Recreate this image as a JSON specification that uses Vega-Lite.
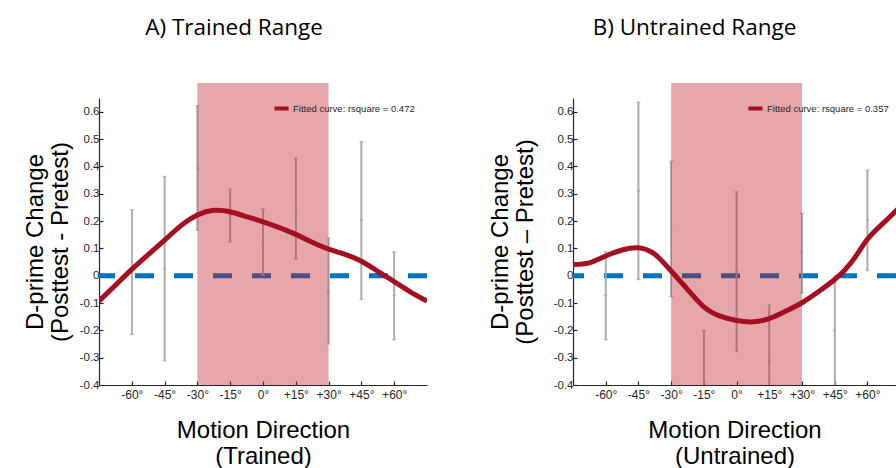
{
  "$schema": "https://vega.github.io/schema/vega-lite/v6.json",
  "background": "white",
  "padding": {"left": 23, "top": 17, "right": 0, "bottom": 0},
  "spacing": 58,
  "config": {
    "locale": {"number": {"decimal": ".", "thousands": ",", "grouping": [3], "currency": ["$", ""], "minus": "-"}},
    "view": {"stroke": null},
    "font": "Liberation Sans",
    "axis": {
      "grid": false,
      "domainColor": "#262626",
      "domainWidth": 1.2,
      "tickColor": "#262626",
      "tickWidth": 1.2,
      "tickSize": -4,
      "labelOverlap": false,
      "labelBound": false,
      "labelColor": "#262626",
      "labelFont": "Liberation Sans",
      "titleFont": "Liberation Sans",
      "titleFontWeight": "normal",
      "titleColor": "#000000",
      "titleFontSize": 24
    },
    "legend": {
      "orient": "none",
      "legendX": 173,
      "legendY": 1,
      "symbolType": "stroke",
      "symbolStrokeWidth": 4,
      "symbolSize": 200,
      "labelFont": "Liberation Sans",
      "labelFontSize": 9.5,
      "labelColor": "#262626",
      "labelOffset": 2,
      "padding": 0
    },
    "title": {"font": "Open Sans", "fontSize": 22.5, "fontWeight": "normal", "color": "#000000", "anchor": "middle", "frame": "group"}
  },
  "datasets": {
    "zero": [{"ref": 0}],
    "range": [{"from": -30, "to": 30}],
    "errA": [
      {"dir": -60, "lo": -0.215, "hi": 0.241, "mean": 0.013},
      {"dir": -45, "lo": -0.311, "hi": 0.363, "mean": 0.025},
      {"dir": -30, "lo": 0.166, "hi": 0.622, "mean": 0.392},
      {"dir": -15, "lo": 0.124, "hi": 0.316, "mean": 0.221},
      {"dir": 0, "lo": 0.002, "hi": 0.243, "mean": 0.117},
      {"dir": 15, "lo": 0.060, "hi": 0.430, "mean": 0.245},
      {"dir": 30, "lo": -0.250, "hi": 0.137, "mean": -0.058},
      {"dir": 45, "lo": -0.087, "hi": 0.490, "mean": 0.204},
      {"dir": 60, "lo": -0.234, "hi": 0.087, "mean": -0.072}
    ],
    "errB": [
      {"dir": -60, "lo": -0.234, "hi": 0.087, "mean": -0.072},
      {"dir": -45, "lo": -0.014, "hi": 0.634, "mean": 0.310},
      {"dir": -30, "lo": -0.077, "hi": 0.419, "mean": 0.172},
      {"dir": -15, "lo": -0.64, "hi": -0.201, "mean": -0.42},
      {"dir": 0, "lo": -0.278, "hi": 0.307, "mean": 0.014},
      {"dir": 15, "lo": -0.514, "hi": -0.108, "mean": -0.311},
      {"dir": 30, "lo": -0.063, "hi": 0.228, "mean": 0.084},
      {"dir": 45, "lo": -0.401, "hi": -0.001, "mean": -0.201},
      {"dir": 60, "lo": 0.019, "hi": 0.386, "mean": 0.204}
    ],
    "curveA": [
      {"dir": -75, "d": -0.093, "series": "Fitted curve: rsquare = 0.472"},
      {"dir": -67.5, "d": -0.035, "series": "Fitted curve: rsquare = 0.472"},
      {"dir": -60, "d": 0.023, "series": "Fitted curve: rsquare = 0.472"},
      {"dir": -52.5, "d": 0.077, "series": "Fitted curve: rsquare = 0.472"},
      {"dir": -45, "d": 0.130, "series": "Fitted curve: rsquare = 0.472"},
      {"dir": -37.5, "d": 0.183, "series": "Fitted curve: rsquare = 0.472"},
      {"dir": -30, "d": 0.222, "series": "Fitted curve: rsquare = 0.472"},
      {"dir": -22.5, "d": 0.239, "series": "Fitted curve: rsquare = 0.472"},
      {"dir": -15, "d": 0.234, "series": "Fitted curve: rsquare = 0.472"},
      {"dir": -7.5, "d": 0.216, "series": "Fitted curve: rsquare = 0.472"},
      {"dir": 0, "d": 0.197, "series": "Fitted curve: rsquare = 0.472"},
      {"dir": 7.5, "d": 0.176, "series": "Fitted curve: rsquare = 0.472"},
      {"dir": 15, "d": 0.151, "series": "Fitted curve: rsquare = 0.472"},
      {"dir": 22.5, "d": 0.122, "series": "Fitted curve: rsquare = 0.472"},
      {"dir": 30, "d": 0.097, "series": "Fitted curve: rsquare = 0.472"},
      {"dir": 37.5, "d": 0.078, "series": "Fitted curve: rsquare = 0.472"},
      {"dir": 45, "d": 0.053, "series": "Fitted curve: rsquare = 0.472"},
      {"dir": 52.5, "d": 0.016, "series": "Fitted curve: rsquare = 0.472"},
      {"dir": 60, "d": -0.022, "series": "Fitted curve: rsquare = 0.472"},
      {"dir": 67.5, "d": -0.06, "series": "Fitted curve: rsquare = 0.472"},
      {"dir": 75, "d": -0.093, "series": "Fitted curve: rsquare = 0.472"}
    ],
    "curveB": [
      {"dir": -75, "d": 0.041, "series": "Fitted curve: rsquare = 0.357"},
      {"dir": -67.5, "d": 0.047, "series": "Fitted curve: rsquare = 0.357"},
      {"dir": -60, "d": 0.072, "series": "Fitted curve: rsquare = 0.357"},
      {"dir": -52.5, "d": 0.094, "series": "Fitted curve: rsquare = 0.357"},
      {"dir": -45, "d": 0.102, "series": "Fitted curve: rsquare = 0.357"},
      {"dir": -37.5, "d": 0.078, "series": "Fitted curve: rsquare = 0.357"},
      {"dir": -30, "d": 0.017, "series": "Fitted curve: rsquare = 0.357"},
      {"dir": -22.5, "d": -0.05, "series": "Fitted curve: rsquare = 0.357"},
      {"dir": -15, "d": -0.114, "series": "Fitted curve: rsquare = 0.357"},
      {"dir": -7.5, "d": -0.148, "series": "Fitted curve: rsquare = 0.357"},
      {"dir": 0, "d": -0.164, "series": "Fitted curve: rsquare = 0.357"},
      {"dir": 7.5, "d": -0.169, "series": "Fitted curve: rsquare = 0.357"},
      {"dir": 15, "d": -0.157, "series": "Fitted curve: rsquare = 0.357"},
      {"dir": 22.5, "d": -0.13, "series": "Fitted curve: rsquare = 0.357"},
      {"dir": 30, "d": -0.099, "series": "Fitted curve: rsquare = 0.357"},
      {"dir": 37.5, "d": -0.059, "series": "Fitted curve: rsquare = 0.357"},
      {"dir": 45, "d": -0.014, "series": "Fitted curve: rsquare = 0.357"},
      {"dir": 52.5, "d": 0.047, "series": "Fitted curve: rsquare = 0.357"},
      {"dir": 60, "d": 0.133, "series": "Fitted curve: rsquare = 0.357"},
      {"dir": 67.5, "d": 0.194, "series": "Fitted curve: rsquare = 0.357"},
      {"dir": 75, "d": 0.253, "series": "Fitted curve: rsquare = 0.357"}
    ]
  },
  "resolve": {"scale": {"color": "independent"}, "legend": {"color": "independent"}},
  "hconcat": [
    {
      "width": 328,
      "height": 287,
      "title": {"text": "A) Trained Range", "dx": -29, "offset": 43},
      "layer": [
        {
          "data": {"name": "errA"},
          "mark": {"type": "rule", "color": "#ababab", "strokeWidth": 1.6, "clip": true},
          "encoding": {
            "x": {"field": "dir", "type": "quantitative", "scale": {"domain": [-75, 75], "nice": false, "zero": false},
              "axis": {"values": [-60, -45, -30, -15, 0, 15, 30, 45, 60], "labelFontSize": 12, "labelPadding": 8,
                "labelExpr": "(datum.value > 0 ? '+' : '') + datum.value + '°'",
                "title": ["Motion Direction", "(Trained)"], "titlePadding": 18, "titleLineHeight": 26}},
            "y": {"field": "lo", "type": "quantitative", "scale": {"domain": [-0.4, 0.65], "nice": false, "zero": false},
              "axis": {"values": [-0.4, -0.3, -0.2, -0.1, 0, 0.1, 0.2, 0.3, 0.4, 0.5, 0.6], "tickCount": 11, "format": ".1~f", "labelFontSize": 11.5, "labelPadding": 4, "labelOverlap": false,
                "title": ["D-prime Change", "(Posttest - Pretest)"], "titlePadding": 7, "titleLineHeight": 25}},
            "y2": {"field": "hi"}
          }
        },
        {
          "data": {"name": "zero"},
          "mark": {"type": "rule", "color": "#0072BD", "strokeWidth": 5, "strokeDash": [19, 20]},
          "encoding": {"y": {"field": "ref", "type": "quantitative"}}
        },
        {
          "data": {"name": "errA"},
          "mark": {"type": "rule", "color": "#ababab", "strokeWidth": 1.6, "clip": true},
          "encoding": {"x": {"field": "dir", "type": "quantitative"}, "y": {"field": "lo", "type": "quantitative"}, "y2": {"field": "hi"}}
        },
        {
          "data": {"name": "errA"},
          "mark": {"type": "tick", "orient": "horizontal", "color": "#ababab", "size": 4, "thickness": 1.5, "clip": true},
          "encoding": {"x": {"field": "dir", "type": "quantitative"}, "y": {"field": "lo", "type": "quantitative"}}
        },
        {
          "data": {"name": "errA"},
          "mark": {"type": "tick", "orient": "horizontal", "color": "#ababab", "size": 4, "thickness": 1.5, "clip": true},
          "encoding": {"x": {"field": "dir", "type": "quantitative"}, "y": {"field": "hi", "type": "quantitative"}}
        },
        {
          "data": {"name": "errA"},
          "mark": {"type": "point", "filled": true, "color": "#ababab", "size": 8, "opacity": 1, "clip": true},
          "encoding": {"x": {"field": "dir", "type": "quantitative"}, "y": {"field": "mean", "type": "quantitative"}}
        },
        {
          "data": {"name": "range"},
          "mark": {"type": "rect", "color": "#c0212a", "opacity": 0.4, "clip": false},
          "encoding": {
            "x": {"field": "from", "type": "quantitative"},
            "x2": {"field": "to"},
            "y": {"datum": -0.4},
            "y2": {"datum": 0.705}
          }
        },
        {
          "data": {"name": "curveA"},
          "mark": {"type": "line", "strokeWidth": 5, "interpolate": "natural", "clip": true},
          "encoding": {
            "x": {"field": "dir", "type": "quantitative"},
            "y": {"field": "d", "type": "quantitative"},
            "color": {"field": "series", "type": "nominal", "scale": {"range": ["#a50f22"]}, "legend": {"title": null}}
          }
        }
      ]
    },
    {
      "width": 323,
      "height": 287,
      "title": {"text": "B) Untrained Range", "dx": -40, "offset": 43},
      "layer": [
        {
          "data": {"name": "errB"},
          "mark": {"type": "rule", "color": "#ababab", "strokeWidth": 1.6, "clip": true},
          "encoding": {
            "x": {"field": "dir", "type": "quantitative", "scale": {"domain": [-75, 73.1], "nice": false, "zero": false},
              "axis": {"values": [-60, -45, -30, -15, 0, 15, 30, 45, 60], "labelFontSize": 12, "labelPadding": 8,
                "labelExpr": "(datum.value > 0 ? '+' : '') + datum.value + '°'",
                "title": ["Motion Direction", "(Untrained)"], "titlePadding": 18, "titleLineHeight": 26}},
            "y": {"field": "lo", "type": "quantitative", "scale": {"domain": [-0.4, 0.65], "nice": false, "zero": false},
              "axis": {"values": [-0.4, -0.3, -0.2, -0.1, 0, 0.1, 0.2, 0.3, 0.4, 0.5, 0.6], "tickCount": 11, "format": ".1~f", "labelFontSize": 11.5, "labelPadding": 4, "labelOverlap": false,
                "title": ["D-prime Change", "(Posttest – Pretest)"], "titlePadding": 16, "titleLineHeight": 25}},
            "y2": {"field": "hi"}
          }
        },
        {
          "data": {"name": "zero"},
          "mark": {"type": "rule", "color": "#0072BD", "strokeWidth": 5, "strokeDash": [19, 20]},
          "encoding": {"y": {"field": "ref", "type": "quantitative"}}
        },
        {
          "data": {"name": "errB"},
          "mark": {"type": "rule", "color": "#ababab", "strokeWidth": 1.6, "clip": true},
          "encoding": {"x": {"field": "dir", "type": "quantitative"}, "y": {"field": "lo", "type": "quantitative"}, "y2": {"field": "hi"}}
        },
        {
          "data": {"name": "errB"},
          "mark": {"type": "tick", "orient": "horizontal", "color": "#ababab", "size": 4, "thickness": 1.5, "clip": true},
          "encoding": {"x": {"field": "dir", "type": "quantitative"}, "y": {"field": "lo", "type": "quantitative"}}
        },
        {
          "data": {"name": "errB"},
          "mark": {"type": "tick", "orient": "horizontal", "color": "#ababab", "size": 4, "thickness": 1.5, "clip": true},
          "encoding": {"x": {"field": "dir", "type": "quantitative"}, "y": {"field": "hi", "type": "quantitative"}}
        },
        {
          "data": {"name": "errB"},
          "mark": {"type": "point", "filled": true, "color": "#ababab", "size": 8, "opacity": 1, "clip": true},
          "encoding": {"x": {"field": "dir", "type": "quantitative"}, "y": {"field": "mean", "type": "quantitative"}}
        },
        {
          "data": {"name": "range"},
          "mark": {"type": "rect", "color": "#c0212a", "opacity": 0.4, "clip": false},
          "encoding": {
            "x": {"field": "from", "type": "quantitative"},
            "x2": {"field": "to"},
            "y": {"datum": -0.4},
            "y2": {"datum": 0.705}
          }
        },
        {
          "data": {"name": "curveB"},
          "mark": {"type": "line", "strokeWidth": 5, "interpolate": "natural", "clip": true},
          "encoding": {
            "x": {"field": "dir", "type": "quantitative"},
            "y": {"field": "d", "type": "quantitative"},
            "color": {"field": "series", "type": "nominal", "scale": {"range": ["#a50f22"]}, "legend": {"title": null}}
          }
        }
      ]
    }
  ]
}
